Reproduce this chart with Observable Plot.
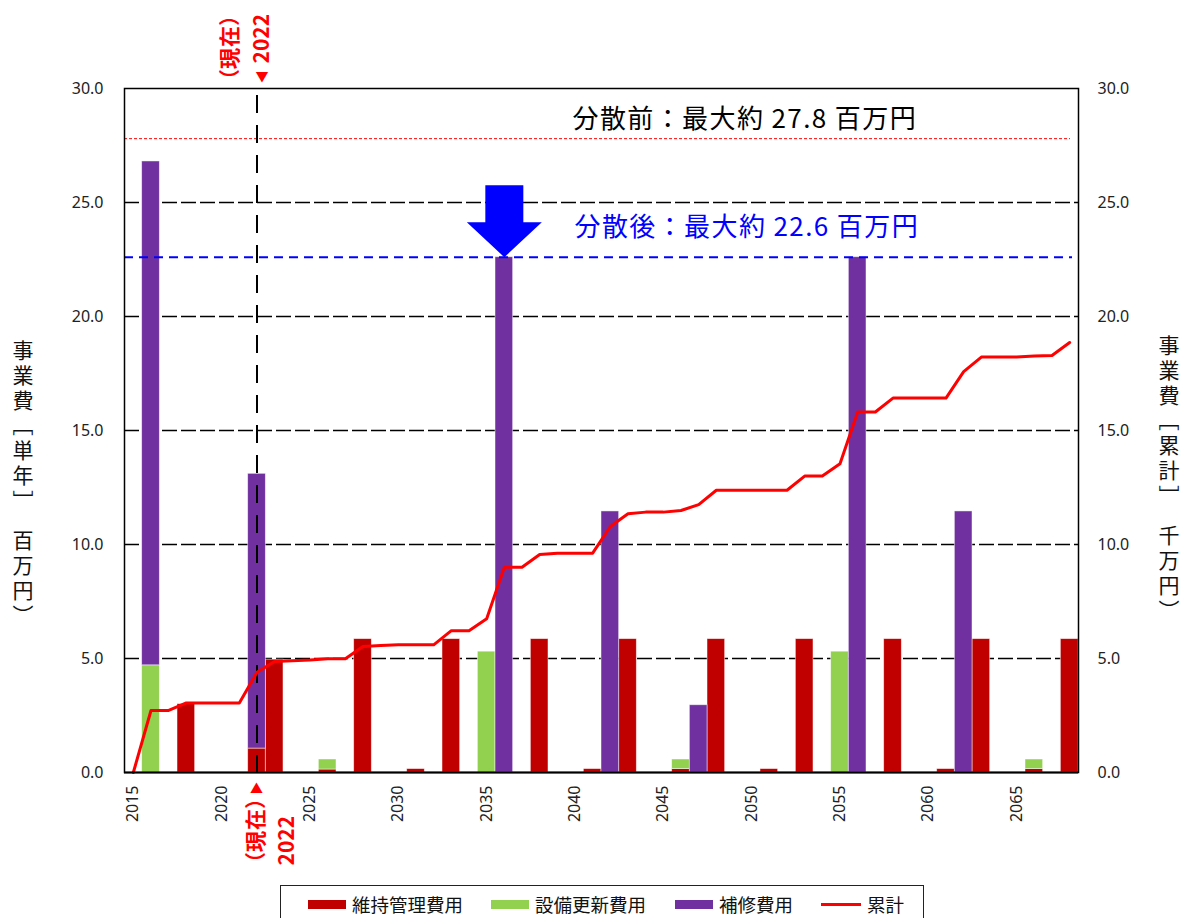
<!DOCTYPE html>
<html lang="ja">
<head>
<meta charset="utf-8">
<script src="https://cdn.jsdelivr.net/npm/d3@7"></script>
<script src="https://cdn.jsdelivr.net/npm/@observablehq/plot@0.6"></script>
<style>
  html, body { margin: 0; padding: 0; background: #fff; }
  #chart { position: relative; width: 1193px; height: 918px; overflow: hidden; font-family: "Noto Sans CJK JP", "Noto Sans", sans-serif; }
  #chart svg { position: absolute; left: 0; top: 0; }
  .wide { letter-spacing: 1.4px; }
  .spaced { letter-spacing: 1px; font-feature-settings: "palt"; }
  .legend { position: absolute; left: 280px; top: 885px; width: 644px; height: 46px; border: 1.5px solid #222; box-sizing: border-box; background: #fff; }
  .legend .item { position: absolute; top: 0; height: 36px; display: flex; align-items: center; font-size: 18.5px; color: #111; white-space: nowrap; }
  .legend .sw { display: inline-block; width: 38px; height: 9px; margin-right: 6px; }
  .legend .ln { display: inline-block; width: 40px; height: 3px; margin-right: 6px; }
</style>
</head>
<body>
<div id="chart"></div>
<script>
// Fiscal years on the category axis
const years = [
  2015, 2016, 2017, 2018, 2019, 2020, 2021, 2022, 2023, 2024,
  2025, 2026, 2027, 2028, 2029, 2030, 2031, 2032, 2033, 2034,
  2035, 2036, 2037, 2038, 2039, 2040, 2041, 2042, 2043, 2044,
  2045, 2046, 2047, 2048, 2049, 2050, 2051, 2052, 2053, 2054,
  2055, 2056, 2057, 2058, 2059, 2060, 2061, 2062, 2063, 2064,
  2065, 2066, 2067, 2068
];
const labelYears = [2015, 2020, 2025, 2030, 2035, 2040, 2045, 2050, 2055, 2060, 2065];

const seriesNames = ["維持管理費用", "設備更新費用", "補修費用"];
const seriesColors = ["#C00000", "#92D050", "#7030A0"];
const cumulativeName = "累計";
const cumulativeColor = "#FF0000";

// Annual cost per series (百万円), one value per year above
const maintenance = [
  0, 0, 0, 3.0, 0, 0, 0, 1.05, 4.95, 0,
  0, 0.13, 0, 5.85, 0, 0, 0.15, 0, 5.85, 0,
  0, 0, 0, 5.85, 0, 0, 0.15, 0, 5.85, 0,
  0, 0.15, 0, 5.85, 0, 0, 0.15, 0, 5.85, 0,
  0, 0, 0, 5.85, 0, 0, 0.15, 0, 5.85, 0,
  0, 0.15, 0, 5.85
];
const renewal = [
  0, 4.7, 0, 0, 0, 0, 0, 0, 0, 0,
  0, 0.44, 0, 0, 0, 0, 0, 0, 0, 0,
  5.3, 0, 0, 0, 0, 0, 0, 0, 0, 0,
  0, 0.42, 0, 0, 0, 0, 0, 0, 0, 0,
  5.3, 0, 0, 0, 0, 0, 0, 0, 0, 0,
  0, 0.42, 0, 0
];
const repair = [
  0, 22.1, 0, 0, 0, 0, 0, 12.05, 0, 0,
  0, 0, 0, 0, 0, 0, 0, 0, 0, 0,
  0, 22.6, 0, 0, 0, 0, 0, 11.45, 0, 0,
  0, 0, 2.95, 0, 0, 0, 0, 0, 0, 0,
  0, 22.6, 0, 0, 0, 0, 0, 11.45, 0, 0,
  0, 0, 0, 0
];
// Running total (千万円), right-hand axis
const cumulative = [
  0, 2.72, 2.72, 3.05, 3.05, 3.05, 3.05, 4.40, 4.87, 4.90,
  4.93, 4.99, 4.99, 5.53, 5.57, 5.60, 5.60, 5.60, 6.22, 6.22,
  6.74, 9.00, 9.00, 9.56, 9.62, 9.62, 9.62, 10.79, 11.35, 11.42,
  11.42, 11.49, 11.75, 12.38, 12.38, 12.38, 12.38, 12.38, 13.00, 13.00,
  13.54, 15.81, 15.81, 16.42, 16.42, 16.42, 16.42, 17.58, 18.22, 18.22,
  18.22, 18.27, 18.29, 18.86
];

const yTicks = [0, 5, 10, 15, 20, 25, 30];
const currentYear = 2022;
const currentLabel = "（現在）";
const peakBefore = 27.8;
const peakAfter = 22.6;
const arrowYear = 2036;

const barRows = [];
[maintenance, renewal, repair].forEach((values, s) => {
  years.forEach((year, i) => {
    if (values[i] > 0) barRows.push({year, series: seriesNames[s], value: values[i]});
  });
});
const cumRows = years.map((year, i) => ({year, value: cumulative[i]}));

// Block arrow drawn pointing up from the origin; rotated by the vector mark
const blockArrow = {
  draw(context, l) {
    const shaft = 19, head = 37.5, headLen = 35;
    context.moveTo(-shaft, 0);
    context.lineTo(-shaft, -(l - headLen));
    context.lineTo(-head, -(l - headLen));
    context.lineTo(0, -l);
    context.lineTo(head, -(l - headLen));
    context.lineTo(shaft, -(l - headLen));
    context.lineTo(shaft, 0);
    context.closePath();
  }
};

const cjk = "Noto Sans CJK JP";
const red = "#FF0000";

// "Now" marker pieces: a rotated caption, a small pointer and the rotated year
function nowMarker(anchor, parts) {
  return parts.map(p => Plot.text([currentYear], {
    x: d => d, frameAnchor: anchor, text: p.text,
    rotate: p.rotate ? -90 : 0, textAnchor: p.rotate ? "start" : "middle", lineAnchor: "middle",
    dx: p.dx, dy: p.dy, fill: red, fontWeight: "bold", fontSize: p.size, fontFamily: cjk,
    className: p.className
  }));
}

const plot = Plot.plot({
  width: 1193,
  height: 880,
  marginLeft: 124,
  marginRight: 115,
  marginTop: 88,
  marginBottom: 108,
  style: {fontFamily: "'Noto Sans', 'Noto Sans CJK JP', sans-serif", fontSize: "16px", color: "#222", background: "white"},
  x: {type: "band", domain: years, padding: 0, round: false},
  y: {domain: [0, 30]},
  color: {domain: seriesNames, range: seriesColors},
  marks: [
    Plot.ruleY(yTicks.filter(v => v > 0 && v < 30), {stroke: "#000", strokeWidth: 1.3, strokeDasharray: "15,4"}),
    Plot.barY(barRows, {
      x: "year", y: "value", fill: "series", order: seriesNames,
      stroke: "#fff", strokeWidth: 0.8, strokeOpacity: 0.6
    }),
    Plot.ruleY([peakBefore], {stroke: red, strokeWidth: 1, strokeDasharray: "3,2", insetRight: 8}),
    Plot.ruleY([peakAfter], {stroke: "#0000FF", strokeWidth: 2, strokeDasharray: "9,6", insetRight: 6}),
    Plot.ruleX([currentYear], {stroke: "#000", strokeWidth: 2, strokeDasharray: "18,12", insetTop: 7, insetBottom: -10}),
    Plot.line(cumRows, {x: "year", y: "value", stroke: cumulativeColor, strokeWidth: 3}),
    Plot.ruleY([0], {stroke: "#111", strokeWidth: 2}),
    Plot.frame({stroke: "#000", strokeWidth: 1.5}),
    Plot.vector([{year: arrowYear, value: peakAfter}], {
      x: "year", y: "value", length: 72, rotate: 180, anchor: "end",
      shape: blockArrow, fill: "#0000FF", stroke: "none"
    }),
    Plot.text([peakBefore], {
      y: d => d, frameAnchor: "left", dx: 448, dy: -19, textAnchor: "start", className: "wide",
      text: d => `分散前：最大約 ${d} 百万円`, fill: "#000", fontSize: 26, fontFamily: cjk
    }),
    Plot.text([peakAfter], {
      y: d => d, frameAnchor: "left", dx: 450, dy: -30, textAnchor: "start", className: "wide",
      text: d => `分散後：最大約 ${d} 百万円`, fill: "#0000FF", fontSize: 26, fontFamily: cjk
    }),
    ...nowMarker("top", [
      {text: () => currentLabel, rotate: true, size: 21, dx: -27, dy: -8, className: "spaced"},
      {text: () => "▼", rotate: false, size: 13, dx: 5, dy: -11.5},
      {text: d => `${d}`, rotate: true, size: 21, dx: 5, dy: -25}
    ]),
    ...nowMarker("bottom", [
      {text: () => currentLabel, rotate: true, size: 21, dx: -0.5, dy: 91, className: "spaced"},
      {text: () => "▲", rotate: false, size: 13, dx: -0.5, dy: 16.5},
      {text: d => `${d}`, rotate: true, size: 21, dx: 30.5, dy: 93}
    ]),
    Plot.axisY(yTicks, {anchor: "left", tickFormat: d3.format(".1f"), tickSize: 0, tickPadding: 21, fontSize: 16, label: null}),
    Plot.axisY(yTicks, {anchor: "right", tickFormat: d3.format(".1f"), tickSize: 0, tickPadding: 19, fontSize: 16, label: null}),
    Plot.axisX(labelYears, {anchor: "bottom", tickFormat: d => String(d), tickRotate: -90, tickSize: 0, tickPadding: 13, fontSize: 16, label: null})
  ]
});

// Vertical (tategaki) axis titles
const svg = d3.select(plot);
[
  {x: 23, y: 340, text: "事業費［単年］　百万円）"},
  {x: 1169, y: 335, text: "事業費［累計］　千万円）"}
].forEach(t => {
  svg.append("text")
    .attr("x", t.x).attr("y", t.y)
    .attr("text-anchor", "start")
    .style("writing-mode", "vertical-rl")
    .style("font-family", cjk)
    .style("font-size", "21px")
    .style("letter-spacing", "4px")
    .attr("fill", "#111")
    .text(t.text);
});

const chart = document.getElementById("chart");
chart.appendChild(plot);

// Legend below the plot
const legend = document.createElement("div");
legend.className = "legend";
const items = [
  {label: seriesNames[0], color: seriesColors[0], left: 27, kind: "sw"},
  {label: seriesNames[1], color: seriesColors[1], left: 210, kind: "sw"},
  {label: seriesNames[2], color: seriesColors[2], left: 394, kind: "sw"},
  {label: cumulativeName, color: cumulativeColor, left: 540, kind: "ln"}
];
items.forEach(it => {
  const item = document.createElement("div");
  item.className = "item";
  item.style.left = it.left + "px";
  const sw = document.createElement("span");
  sw.className = it.kind;
  sw.style.background = it.color;
  const tx = document.createElement("span");
  tx.textContent = it.label;
  item.appendChild(sw);
  item.appendChild(tx);
  legend.appendChild(item);
});
chart.appendChild(legend);
</script>
</body>
</html>
